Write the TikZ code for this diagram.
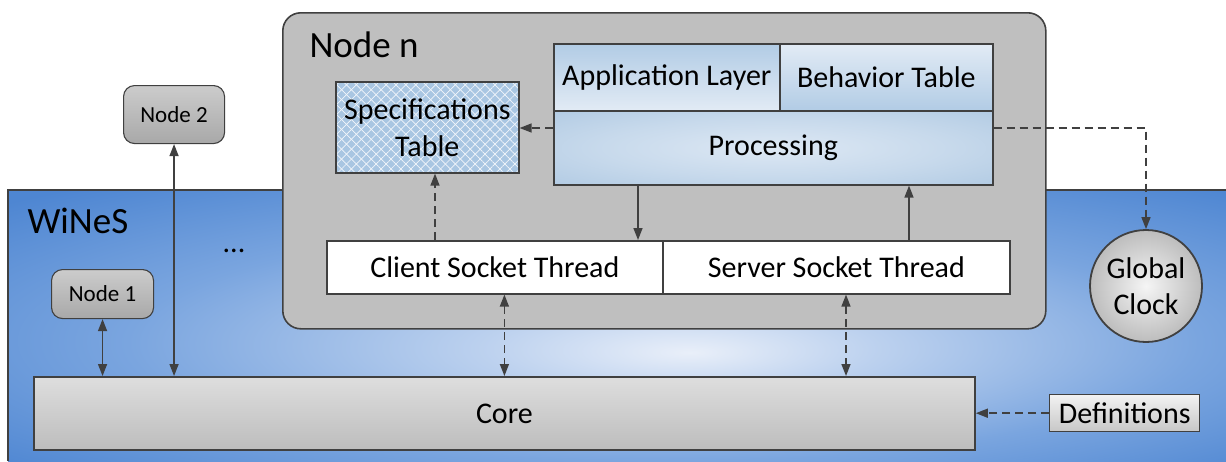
\documentclass[tikz,border=0pt]{standalone}
\usepackage{fontspec}
\setmainfont{Carlito}
\usetikzlibrary{arrows.meta,patterns.meta}

\definecolor{edge}{HTML}{404040}
\definecolor{nodegray}{HTML}{BFBFBF}
\definecolor{bgblue}{HTML}{4E86D2}
\definecolor{bgmid}{HTML}{7AA5DF}
\definecolor{bglight}{HTML}{E9EFF9}
\definecolor{paleblue}{HTML}{A9C6E2}
\definecolor{lightblue}{HTML}{E2EBF5}
\definecolor{procblue}{HTML}{A6C3DF}
\definecolor{procpale}{HTML}{DDE8F4}

% environment backdrop: light patch below the centre fading to saturated blue
\pgfdeclareradialshading{winesglow}{\pgfpoint{3bp}{-5bp}}{%
  color(0bp)=(bglight); color(8bp)=(bglight!60!bgmid); color(22bp)=(bgmid);
  color(36bp)=(bgblue); color(60bp)=(bgblue)}
\pgfdeclareradialshading{procglow}{\pgfpoint{0bp}{0bp}}{%
  color(0bp)=(procpale); color(20bp)=(procpale!60!procblue); color(45bp)=(procblue);
  color(60bp)=(procblue)}

\tikzset{
  x=1pt, y=-1pt,
  titlefont/.style={font=\fontsize{37}{42}\selectfont},
  mainfont/.style={font=\fontsize{30}{37}\selectfont},
  smallfont/.style={font=\fontsize{23}{26}\selectfont},
  box/.style={draw=edge, line width=1.6pt, inner sep=0pt, anchor=north west, mainfont},
  peer/.style={draw=edge, line width=1.1pt, rounded corners=11pt, inner sep=0pt,
    anchor=north west, top color=black!20, bottom color=black!34, smallfont},
  conn/.style={draw=edge, line width=1.5pt, {Triangle[length=12pt,width=9pt]}-{Triangle[length=12pt,width=9pt]}},
  fwd/.style={draw=edge, line width=1.5pt, -{Triangle[length=12pt,width=9pt]}},
  dashline/.style={dash pattern=on 8pt off 5pt},
  lattice/.style={pattern={Lines[angle=#1,distance=7pt,line width=0.7pt]}, pattern color=white!85!paleblue},
}

\begin{document}
\begin{tikzpicture}
\useasboundingbox (0,0) rectangle (1226,461);

% WiNeS environment
\shade[shading=winesglow] (8,190) rectangle (1226,461);
\draw[edge, line width=1.2pt] (8,461) |- (1226,190);
\node[titlefont, anchor=base west] (wines) at (24,233) {WiNeS};
\node[mainfont, anchor=base] (dots) at (234,252) {...};

% Node n container
\node[draw=edge, line width=1.6pt, fill=nodegray, rounded corners=18pt, inner sep=0pt,
      anchor=north west, minimum width=763pt, minimum height=316pt] (noden) at (282,12) {};
\node[titlefont, anchor=base west] (nodentitle) at (306,57) {Node n};

% Specifications table with lattice texture, border redrawn on top
\node[box, fill=paleblue, align=center, minimum width=183pt, minimum height=91pt,
      postaction={lattice=45}, postaction={lattice=-45},
      postaction={draw=edge, line width=1.6pt}]
      (specs) at (335,81) {Specifications\\Table};

% Application stack
\node[box, top color=paleblue!90, bottom color=lightblue, minimum width=226pt, minimum height=67pt]
      (app) at (553,43) {Application Layer};
\node[box, top color=lightblue, bottom color=paleblue!90, minimum width=213pt, minimum height=67pt]
      (behav) at (779,43) {Behavior Table};
\node[box, shading=procglow, minimum width=439pt, minimum height=74pt]
      (proc) at (553,110) {Processing};

% Socket threads
\node[box, fill=white, minimum width=336pt, minimum height=53pt] (client) at (326,240) {Client Socket Thread};
\node[box, fill=white, minimum width=347pt, minimum height=53pt] (server) at (662,240) {Server Socket Thread};

% Other nodes
\node[peer, minimum width=101pt, minimum height=58pt] (node2) at (123,85) {Node 2};
\node[peer, minimum width=102pt, minimum height=49pt] (node1) at (51,269) {Node 1};

% Core, clock, definitions
\node[box, line width=1.8pt, top color=black!13, bottom color=black!26, minimum width=941pt, minimum height=73pt]
      (core) at (33,376) {Core};
\node[draw=edge, line width=1.8pt, circle, shading=radial, inner color=black!4, outer color=black!26,
      minimum size=112pt, inner sep=0pt, align=center, font=\fontsize{30}{36}\selectfont]
      (clock) at (1146,286) {Global\\Clock};
\node[box, line width=1.4pt, top color=black!5, bottom color=black!22, minimum width=150pt, minimum height=37pt]
      (defs) at (1049,394) {Definitions};

% connector columns and rows
\coordinate (colspec) at (435,0);
\coordinate (coldown) at (638,0);
\coordinate (colup) at (909,0);
\coordinate (colserv) at (846,0);
\coordinate (rowproc) at (0,128);

% connectors
\draw[conn] (node1.south) -- (node1.south |- core.north);
\draw[conn] (node2.south) -- (node2.south |- core.north);
\draw[conn, dashline] (core.north |- client.south) -- (core.north);
\draw[conn, dashline] (colserv |- server.south) -- (colserv |- core.north);
\draw[fwd, dashline] (proc.west |- rowproc) -- (specs.east |- rowproc);
\draw[fwd, dashline] (colspec |- client.north) -- (colspec |- specs.south);
\draw[fwd] (coldown |- proc.south) -- (coldown |- client.north);
\draw[fwd] (colup |- server.north) -- (colup |- proc.south);
\draw[fwd, dashline] (proc.east |- rowproc) -| (clock.north);
\draw[fwd, dashline] (defs.west) -- (defs.west -| core.east);
\end{tikzpicture}
\end{document}
